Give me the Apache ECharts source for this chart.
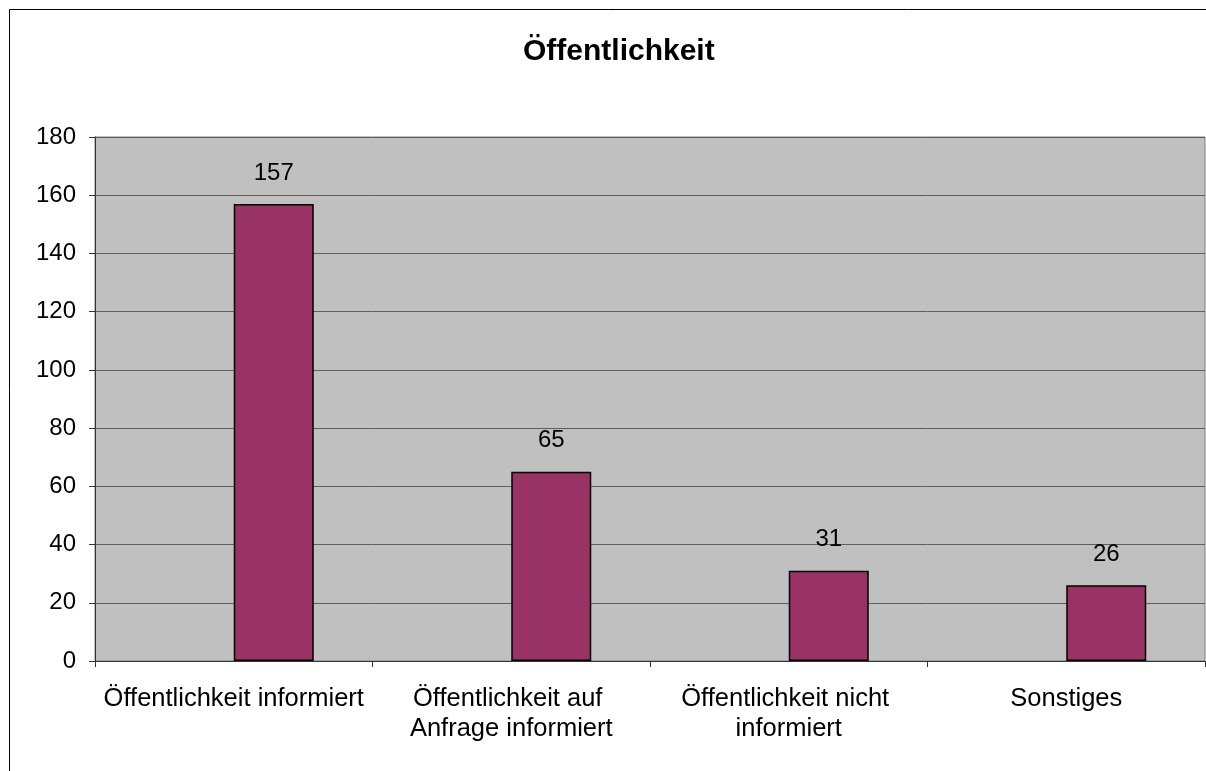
<!DOCTYPE html>
<html>
<head>
<meta charset="utf-8">
<script src="https://cdn.jsdelivr.net/npm/echarts@6/dist/echarts.min.js"></script>
<style>
html,body{margin:0;padding:0;background:#fff;}
#chart{width:1206px;height:771px;}
</style>
</head>
<body>
<div id="chart"></div>
<script>
const chartTitle = 'Öffentlichkeit';
const categories = ['Öffentlichkeit informiert', 'Öffentlichkeit auf Anfrage informiert', 'Öffentlichkeit nicht informiert', 'Sonstiges'];
const values = [157, 65, 31, 26];
const emptySeries = ['-', '-', '-', '-'];

const FONT = '"Liberation Sans", Arial, sans-serif';
const chart = echarts.init(document.getElementById('chart'), null, {renderer: 'canvas'});
chart.setOption({
  animation: false,
  backgroundColor: '#ffffff',
  title: {
    text: chartTitle,
    left: 523,
    top: 37,
    padding: 0,
    textStyle: {fontFamily: FONT, fontSize: 30, fontWeight: 'bold', color: '#000'}
  },
  graphic: [{
    type: 'rect',
    shape: {x: 9.5, y: 9.5, width: 1400, height: 1000},
    style: {fill: 'none', stroke: '#000', lineWidth: 1},
    silent: true,
    z: -1
  }],
  grid: {
    left: 95, top: 137, right: 1, bottom: 110,
    show: true,
    backgroundColor: '#C0C0C0',
    borderColor: '#808080',
    borderWidth: 1
  },
  xAxis: {
    type: 'category',
    data: categories,
    boundaryGap: true,
    axisLine: {show: true, lineStyle: {color: '#333', width: 1}},
    axisTick: {show: true, length: 6, inside: false, lineStyle: {color: '#333'}},
    axisLabel: {
      interval: 0,
      margin: 23,
      fontFamily: FONT,
      fontSize: 25.5,
      lineHeight: 30,
      color: '#000',
      width: 270,
      overflow: 'break',
      align: 'center'
    },
    splitLine: {show: false}
  },
  yAxis: {
    type: 'value',
    min: 0, max: 180, interval: 20,
    axisLine: {show: true, lineStyle: {color: '#333', width: 1}},
    axisTick: {show: true, length: 6, lineStyle: {color: '#333'}},
    axisLabel: {margin: 19, fontFamily: FONT, fontSize: 24, color: '#000'},
    splitLine: {show: true, lineStyle: {color: '#5f5f5f', width: 1}}
  },
  series: [
    {
      type: 'bar',
      data: emptySeries,
      barWidth: 80,
      barGap: '0%',
      silent: true
    },
    {
      type: 'bar',
      data: values,
      barWidth: 80,
      barGap: '0%',
      itemStyle: {color: '#993366', borderColor: '#000', borderWidth: 1.5},
      label: {
        show: true,
        position: 'top',
        distance: 19,
        fontFamily: FONT,
        fontSize: 24,
        color: '#000'
      }
    }
  ]
});
</script>
</body>
</html>
